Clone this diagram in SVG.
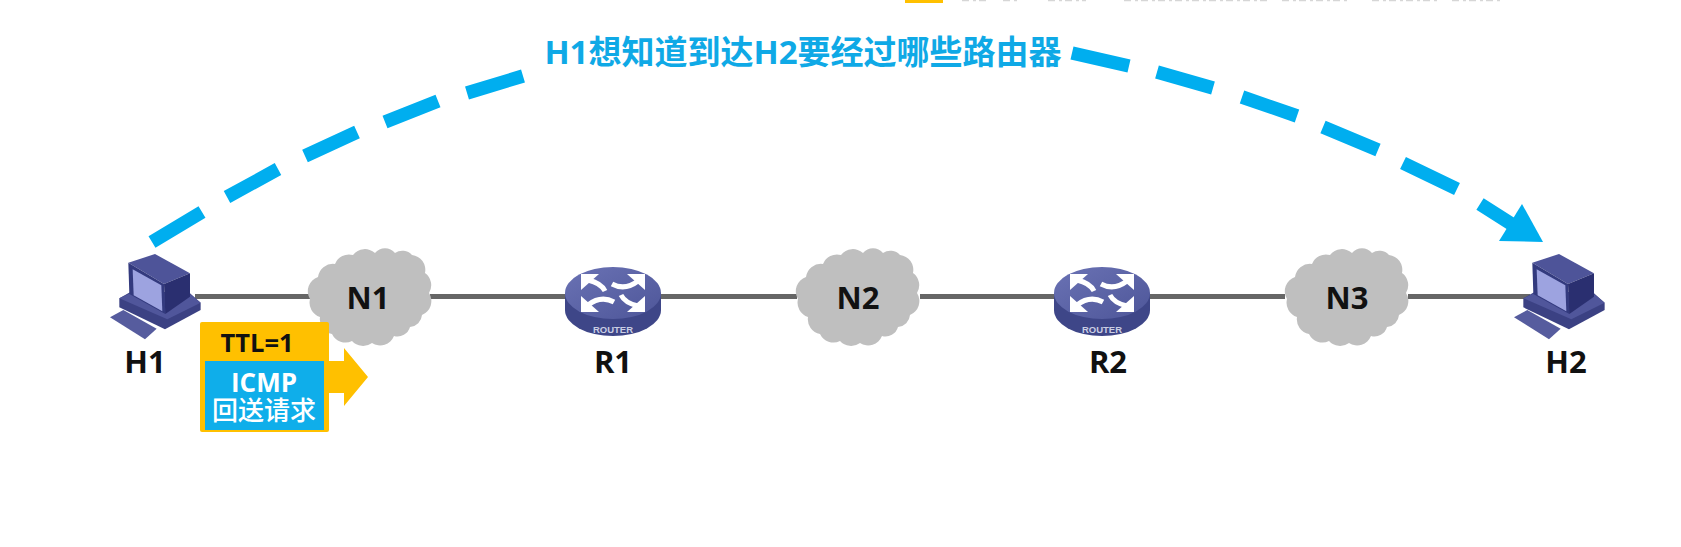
<svg xmlns="http://www.w3.org/2000/svg" width="1681" height="547" viewBox="0 0 1681 547">
  <style>
    .label { font-family: "Open Sans", "Noto Sans CJK SC", sans-serif; font-weight: 700; font-size: 31px; fill: #111; text-anchor: middle; }
    .link { stroke: #666; stroke-width: 5; fill: none; }
    .route { stroke: #00AEEF; stroke-width: 13.5; fill: none; }
    .cloud { fill: #BFBFBF; }
    .router-tag { font-family: "Liberation Sans", sans-serif; font-weight: 700; font-size: 9.5px; fill: #C9CDE3; text-anchor: middle; }
    .packet-cn { font-family: "Open Sans", "Noto Sans CJK SC", sans-serif; fill: #fff; text-anchor: middle; font-size: 26px; }
  </style>
  <defs>
    <linearGradient id="routerTop" x1="0" y1="0" x2="1" y2="1">
      <stop offset="0" stop-color="#6A72B4"/>
      <stop offset="1" stop-color="#4E5699"/>
    </linearGradient>
    <g id="computer-icon">
      <path d="M60 262 L100 240 L200 296 L165 328 Z" fill="#565C9E"/>
      <path d="M88 205 L128 182 L300 190 L332 218 L332 240 L225 298 L88 232 Z" fill="#3B4183"/>
      <path d="M88 205 L232 268 L332 218 L300 192 L130 185 Z" fill="#50569B"/>
      <path d="M115 98 L195 72 L300 130 L222 162 Z" fill="#4E5499"/>
      <path d="M115 98 L222 162 L226 252 L118 192 Z" fill="#333A7E"/>
      <path d="M222 162 L300 130 L300 200 L226 252 Z" fill="#2A2F70"/>
      <path d="M128 118 L214 166 L217 244 L131 196 Z" fill="#9DA3E0"/>
    </g>
    <g id="router-icon">
      <path d="M-48 0 V17 A48 26 0 0 0 48 17 V0 Z" fill="#3E4688"/>
      <ellipse rx="48" ry="26" fill="url(#routerTop)"/>
      <g fill="none" stroke="#fff" stroke-width="5">
        <path d="M-25 -13 Q-12 -10 -8 -2"/>
        <path d="M25 -12 Q12 -2 -1 -9"/>
        <path d="M-25 12 Q-12 2 1 9"/>
        <path d="M25 13 Q12 10 8 2"/>
      </g>
      <g fill="#fff">
        <path d="M-32 -19 H-14 L-32 -3 Z"/>
        <path d="M32 -19 H14 L32 -3 Z"/>
        <path d="M-32 19 H-14 L-32 3 Z"/>
        <path d="M32 19 H14 L32 3 Z"/>
      </g>
    </g>
    <path id="cloud-shape" class="cloud" d="M-60 2 A15 15 0 0 1 -52 -20 A15 15 0 0 1 -35 -33 A15 15 0 0 1 -17 -42 A15 15 0 0 1 5 -44 A13 13 0 0 1 25 -44 A13 13 0 0 1 42 -42 A15 15 0 0 1 55 -24 A15 15 0 0 1 59 -4 A15 15 0 0 1 52 18 A13 13 0 0 1 40 30 A13 13 0 0 1 24 39 A15 15 0 0 1 2 46 A15 15 0 0 1 -18 44 A15 15 0 0 1 -38 37 A15 15 0 0 1 -50 20 A15 15 0 0 1 -60 2 Z"/>
  </defs>

  <!-- clipped slide header strip along the top edge -->
  <g id="header-strip">
    <rect x="905" y="0" width="38" height="3" fill="#FFC000"/>
    <path d="M962 0.6 H990 M1003 0.6 H1020 M1048 0.6 H1086 M1124 0.6 H1270 M1282 0.6 H1350 M1372 0.6 H1440 M1452 0.6 H1500" stroke="#D6D6D6" stroke-width="1.2" stroke-dasharray="7 4 3 3" fill="none"/>
  </g>

  <g id="connectors">
    <path class="link" d="M195 296.5 H310"/>
    <path class="link" d="M430 296.5 H567"/>
    <path class="link" d="M660 296.5 H797"/>
    <path class="link" d="M920 296.5 H1055"/>
    <path class="link" d="M1148 296.5 H1285"/>
    <path class="link" d="M1408 296.5 H1530"/>
    <path class="route" d="M152 242 L202 212 M227 197 L278 169 M305 156 L357 132 M385 122 L438 101 M467 93 L523 76 M1072 53 L1129 66 M1157 72 L1213 88 M1242 97 L1297 116 M1323 127 L1378 150 M1403 163 L1457 189 M1480 204 L1513 225"/>
    <polygon points="1522,204 1543,242 1499,241" fill="#00AEEF"/>
  </g>

  <text id="route-label" x="803" y="64" font-family="'Open Sans', 'Noto Sans CJK SC', sans-serif" font-weight="700" font-size="33" fill="#0FA9E6" text-anchor="middle">H1想知道到达H2要经过哪些路由器</text>

  <g id="H1">
    <use href="#computer-icon" transform="translate(90 230) scale(0.3333)"/>
    <text class="label" x="145" y="373">H1</text>
  </g>
  <g id="N1">
    <use href="#cloud-shape" x="370" y="297"/>
    <text class="label" x="368" y="309">N1</text>
  </g>
  <g id="R1">
    <use href="#router-icon" x="613" y="293"/>
    <text class="router-tag" x="613" y="333">ROUTER</text>
    <text class="label" x="613" y="373">R1</text>
  </g>
  <g id="N2">
    <use href="#cloud-shape" x="858" y="297"/>
    <text class="label" x="858" y="309">N2</text>
  </g>
  <g id="R2">
    <use href="#router-icon" x="1102" y="293"/>
    <text class="router-tag" x="1102" y="333">ROUTER</text>
    <text class="label" x="1108" y="373">R2</text>
  </g>
  <g id="N3">
    <use href="#cloud-shape" x="1347" y="297"/>
    <text class="label" x="1347" y="309">N3</text>
  </g>
  <g id="H2">
    <use href="#computer-icon" transform="translate(1494 230) scale(0.3333)"/>
    <text class="label" x="1566" y="373">H2</text>
  </g>

  <g id="packet">
    <polygon points="329,361 344,361 344,348 368,377 344,406 344,393 329,393" fill="#FFC000"/>
    <rect x="200" y="322" width="129" height="110" rx="2" fill="#FFC000"/>
    <rect x="205" y="361" width="119" height="69" fill="#0FAEEA"/>
    <text x="257" y="352" font-family="'Open Sans', sans-serif" font-weight="700" font-size="25.5" fill="#111" text-anchor="middle">TTL=1</text>
    <text class="packet-cn"><tspan x="264" y="392" font-weight="700">ICMP</tspan><tspan x="264" y="420" font-weight="500">回送请求</tspan></text>
  </g>
</svg>
